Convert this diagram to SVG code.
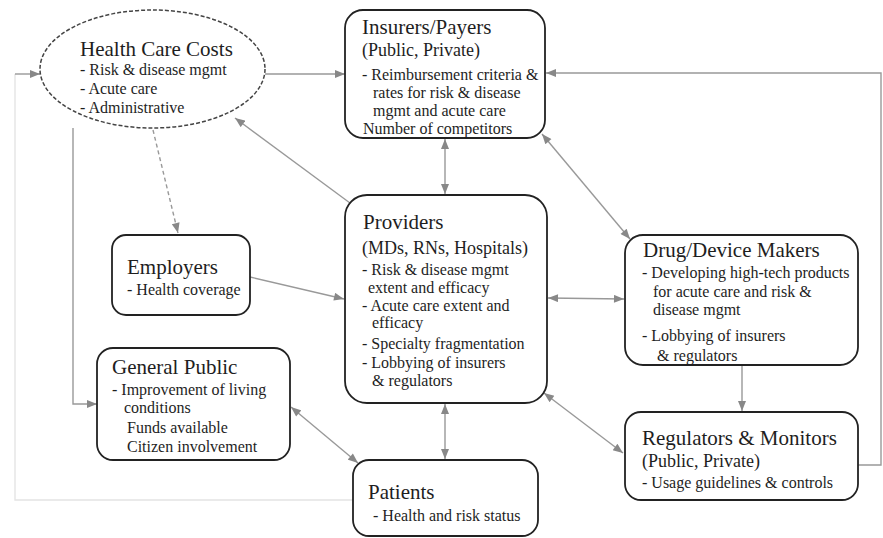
<svg xmlns="http://www.w3.org/2000/svg" width="883" height="538" viewBox="0 0 883 538">
<defs>
<style>
.box{fill:#fff;stroke:#222;stroke-width:1.8}
.ell{fill:#fff;stroke:#444;stroke-width:1.5;stroke-dasharray:4 2}
text{font-family:"Liberation Serif","Times New Roman",serif;fill:#1e1e1e}
.t{font-size:21px}
.s{font-size:18px}
.i{font-size:16px}
.c{fill:none;stroke:#999;stroke-width:1.4}
.f{fill:none;stroke:#e4e4e4;stroke-width:1.4}
.d{stroke-dasharray:4 3}
</style>
<marker id="a" viewBox="0 0 10 8" refX="10" refY="4" markerWidth="11" markerHeight="8" markerUnits="userSpaceOnUse" orient="auto-start-reverse">
<path d="M0,0 L10,4 L0,8 z" fill="#888"/>
</marker>
</defs>
<rect width="883" height="538" fill="#fff"/>

<g id="connectors">
<path class="f" d="M353,500 L15,500 L15,74"/>
<path class="c" d="M15,74 L40,74" marker-end="url(#a)"/>
<path class="c" d="M265,74 L345,74" marker-end="url(#a)"/>
<path class="c" d="M858,465 L881,465 L881,73 L546,73" marker-end="url(#a)"/>
<path class="c" d="M73,128 L73,404 L97,404" marker-end="url(#a)"/>
<path class="c d" d="M153,130 L178,233" marker-end="url(#a)"/>
<path class="c" d="M350,203 L235,118" marker-end="url(#a)"/>
<path class="c" d="M445,139 L445,194" marker-start="url(#a)" marker-end="url(#a)"/>
<path class="c" d="M542,134 L630,239" marker-start="url(#a)" marker-end="url(#a)"/>
<path class="c" d="M250,277 L344,299" marker-end="url(#a)"/>
<path class="c" d="M548,298 L624,299" marker-start="url(#a)" marker-end="url(#a)"/>
<path class="c" d="M742,366 L742,411" marker-end="url(#a)"/>
<path class="c" d="M544,393 L623,453" marker-start="url(#a)" marker-end="url(#a)"/>
<path class="c" d="M445,404 L445,459" marker-start="url(#a)" marker-end="url(#a)"/>
<path class="c" d="M291,407 L358,463" marker-start="url(#a)" marker-end="url(#a)"/>
</g>

<g id="health-care-costs">
<ellipse class="ell" cx="152.5" cy="69" rx="112.5" ry="59"/>
<text class="t" x="80" y="56">Health Care Costs</text>
<text class="i" x="80" y="75">- Risk &amp; disease mgmt</text>
<text class="i" x="80" y="94">- Acute care</text>
<text class="i" x="80" y="113">- Administrative</text>
</g>

<g id="insurers">
<rect class="box" x="345" y="10" width="200" height="128" rx="18"/>
<text class="t" x="362" y="34">Insurers/Payers</text>
<text class="s" x="362" y="56">(Public, Private)</text>
<text class="i" x="362" y="80">- Reimbursement criteria &amp;</text>
<text class="i" x="373" y="98">rates for risk &amp; disease</text>
<text class="i" x="373" y="116">mgmt and acute care</text>
<text class="i" x="363" y="134">Number of competitors</text>
</g>

<g id="providers">
<rect class="box" x="345" y="195" width="202" height="208" rx="22"/>
<text class="t" x="363" y="229">Providers</text>
<text class="s" x="362" y="254">(MDs, RNs, Hospitals)</text>
<text class="i" x="362" y="275">- Risk &amp; disease mgmt</text>
<text class="i" x="368" y="293">extent and efficacy</text>
<text class="i" x="362" y="311">- Acute care extent and</text>
<text class="i" x="372" y="328">efficacy</text>
<text class="i" x="362" y="349">- Specialty fragmentation</text>
<text class="i" x="362" y="368">- Lobbying of insurers</text>
<text class="i" x="372" y="386">&amp; regulators</text>
</g>

<g id="employers">
<rect class="box" x="112" y="235" width="138" height="80" rx="14"/>
<text class="t" x="127" y="274">Employers</text>
<text class="i" x="127" y="295">- Health coverage</text>
</g>

<g id="general-public">
<rect class="box" x="97" y="348" width="193" height="112" rx="16"/>
<text class="t" x="112" y="374">General Public</text>
<text class="i" x="112" y="395">- Improvement of living</text>
<text class="i" x="124" y="413">conditions</text>
<text class="i" x="127" y="433">Funds available</text>
<text class="i" x="127" y="452">Citizen involvement</text>
</g>

<g id="drug-device-makers">
<rect class="box" x="625" y="235" width="233" height="130" rx="18"/>
<text class="t" x="643" y="257">Drug/Device Makers</text>
<text class="i" x="642" y="278">- Developing high-tech products</text>
<text class="i" x="653" y="297">for acute care and risk &amp;</text>
<text class="i" x="653" y="315">disease mgmt</text>
<text class="i" x="642" y="341">- Lobbying of insurers</text>
<text class="i" x="657" y="361">&amp; regulators</text>
</g>

<g id="regulators">
<rect class="box" x="625" y="412" width="233" height="88" rx="16"/>
<text class="t" x="642" y="445">Regulators &amp; Monitors</text>
<text class="s" x="642" y="467">(Public, Private)</text>
<text class="i" x="642" y="488">- Usage guidelines  &amp; controls</text>
</g>

<g id="patients">
<rect class="box" x="353" y="460" width="185" height="76" rx="16"/>
<text class="t" x="368" y="499">Patients</text>
<text class="i" x="373" y="521">- Health and risk status</text>
</g>
</svg>
